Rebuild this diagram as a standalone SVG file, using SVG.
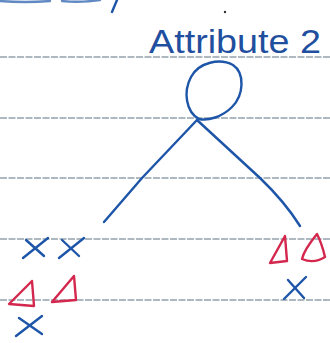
<svg xmlns="http://www.w3.org/2000/svg" width="330" height="343" viewBox="0 0 330 343">
<style>
.rule{stroke:#5f7384;stroke-width:1.1;stroke-dasharray:7 1.5;fill:none}
.ink{stroke:#1d55a8;stroke-width:2.4;fill:none;stroke-linecap:round;stroke-linejoin:round}
.red{stroke:#d3274d;stroke-width:2.4;fill:none;stroke-linecap:round;stroke-linejoin:round}
.lbl{font-family:"Liberation Sans",Arial,sans-serif;font-size:34px;fill:#1f4f9e}
</style>
<rect width="330" height="343" fill="#ffffff"/>
<g id="paper">
<line class="rule" x1="0" y1="57" x2="330" y2="57"/>
<line class="rule" x1="0" y1="118" x2="330" y2="118"/>
<line class="rule" x1="0" y1="178" x2="330" y2="178"/>
<line class="rule" x1="0" y1="239" x2="330" y2="239"/>
<line class="rule" x1="0" y1="300" x2="330" y2="300"/>
<path class="ink" d="M0 1 Q25 3 50 1 M62 1 Q80 3 100 0" stroke-width="1.6" opacity="0.7"/>
<path class="ink" d="M117 0 L112 12" stroke-width="3"/>
<circle cx="225" cy="12" r="1.2" fill="#333"/>
</g>
<g id="attribute">
<text class="lbl" x="149" y="53" textLength="172" lengthAdjust="spacingAndGlyphs">Attribute 2</text>
<path class="ink" d="M199 119 C186 112 183 92 191 77 C199 62 220 58 233 65 C245 73 244 95 232 107 C222 117 208 121 199 119 Z"/>
</g>
<g id="connectors">
<path class="ink" d="M197 120 L142 178 L104 222"/>
<path class="ink" d="M197 120 L260 178 Q285 202 300 226"/>
</g>
<g id="leaf-left">
<path class="ink" d="M23 258 L48 238 M26 240 L44 256"/>
<path class="ink" d="M59 258 L84 238 M62 240 L79 256"/>
<path class="red" d="M32 281 L9 304 L34 306 Z"/>
<path class="red" d="M74 276 L52 302 L76 300 Z"/>
<path class="ink" d="M16 336 L42 316 M19 318 L42 334"/>
</g>
<g id="leaf-right">
<path class="red" d="M285 236 L270 263 L287 261 Z"/>
<path class="red" d="M317 234 Q304 250 302 259 Q314 264 325 257 Q322 244 317 234 Z"/>
<path class="ink" d="M284 299 L306 277 M288 280 L304 298"/>
</g>
</svg>
